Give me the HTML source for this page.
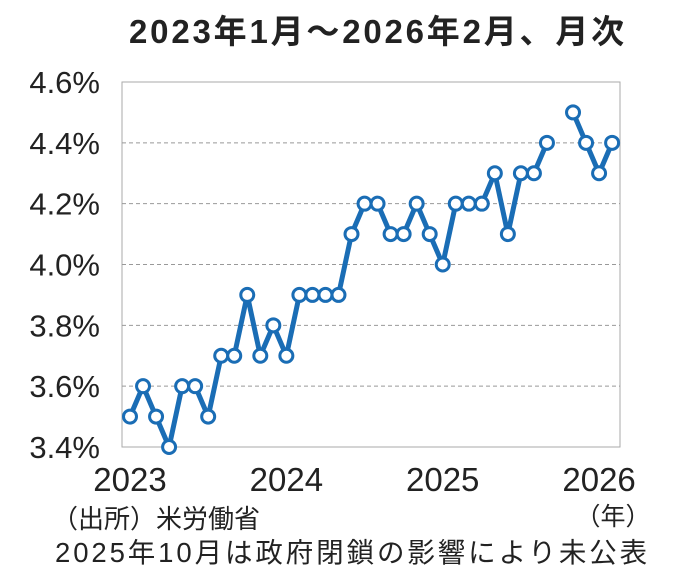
<!DOCTYPE html>
<html><head><meta charset="utf-8"><style>
body{margin:0;background:#fff;}
svg text{font-family:"Liberation Sans","Noto Sans CJK JP",sans-serif;fill:#222;}
</style></head><body>
<svg width="684" height="583" viewBox="0 0 684 583">
<text x="378" y="43" text-anchor="middle" font-size="33" font-weight="bold" letter-spacing="2.8" fill="#333">2023年1月～2026年2月、月次</text>
<rect x="122" y="82" width="498" height="365" fill="none" stroke="#aaa" stroke-width="1"/>
<g id="grid"></g><g id="yt"></g><g id="xt"></g><g id="series"></g>
<text x="613" y="525" text-anchor="middle" font-size="25">（年）</text>
<text x="52" y="528" font-size="26">（出所）米労働省</text>
<text x="55" y="562" font-size="27.5" letter-spacing="2.9">2025年10月は政府閉鎖の影響により未公表</text>
</svg>
<script>
const yTicks=[3.4,3.6,3.8,4.0,4.2,4.4,4.6];
const yLabels=["3.4%","3.6%","3.8%","4.0%","4.2%","4.4%","4.6%"];
const xYears=["2023","2024","2025","2026"];
const xYearIdx=[0,12,24,36];
const values=[3.5,3.6,3.5,3.4,3.6,3.6,3.5,3.7,3.7,3.9,3.7,3.8,3.7,3.9,3.9,3.9,3.9,4.1,4.2,4.2,4.1,4.1,4.2,4.1,4.0,4.2,4.2,4.2,4.3,4.1,4.3,4.3,4.4,null,4.5,4.4,4.3,4.4];
const NS="http://www.w3.org/2000/svg";
function x(i){return 130+i*13.03;}
function y(v){return 447-(v-3.4)/1.2*365;}
function mk(t,a,p){const e=document.createElementNS(NS,t);for(const k in a)e.setAttribute(k,a[k]);p.appendChild(e);return e;}
const g=document.getElementById('grid'),yt=document.getElementById('yt'),xt=document.getElementById('xt'),s=document.getElementById('series');
yTicks.forEach((v,i)=>{
 if(i>0&&i<yTicks.length-1){const l=mk('line',{x1:122,x2:620,y1:y(v),y2:y(v),stroke:'#999','stroke-dasharray':'4,3','stroke-width':1},g);
 
 }
 const t=mk('text',{x:100,y:y(v)+11,'text-anchor':'end','font-size':31,fill:'#333'},yt);t.textContent=yLabels[i];
 
 
});
xYears.forEach((yr,i)=>{const t=mk('text',{x:x(xYearIdx[i]),y:491,'text-anchor':'middle','font-size':33,fill:'#333'},xt);t.textContent=yr;
 
 });
let segs=[],cur=[];
values.forEach((v,i)=>{if(v==null){if(cur.length)segs.push(cur);cur=[];}else cur.push(x(i)+','+y(v));});
if(cur.length)segs.push(cur);
segs.forEach(sg=>{const p=mk('polyline',{points:sg.join(' '),fill:'none',stroke:'#1a6db5','stroke-width':5,'stroke-linejoin':'round'},s);
 
 });
values.forEach((v,i)=>{if(v==null)return;const c=mk('circle',{cx:x(i),cy:y(v),r:6.5,fill:'#fff',stroke:'#1a6db5','stroke-width':3},s);
 
 });
</script>
</body></html>
